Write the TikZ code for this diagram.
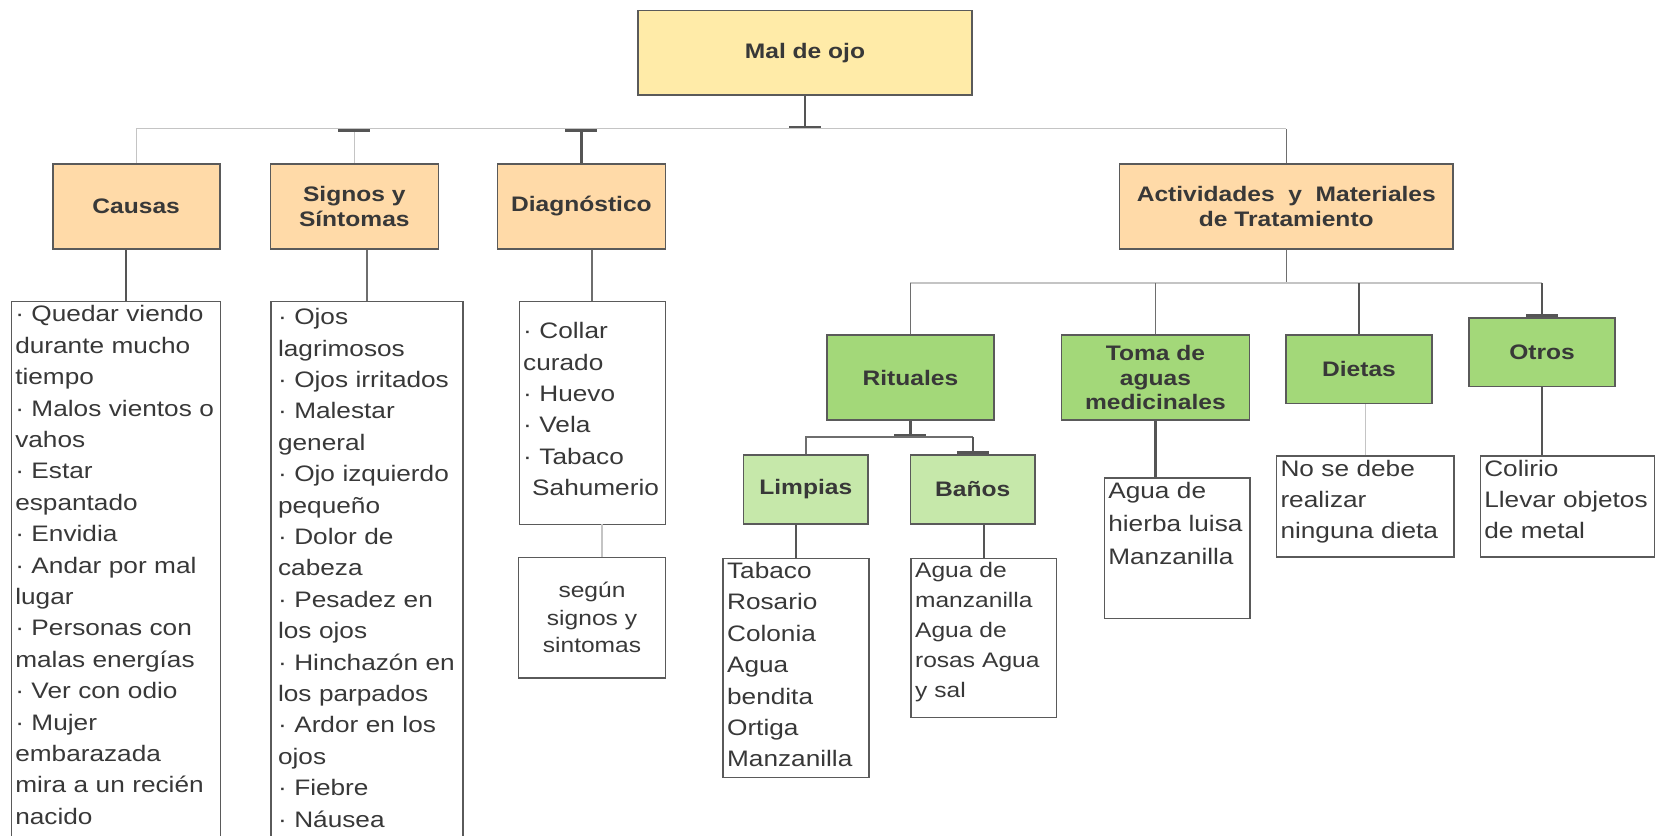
\documentclass[tikz,border=0pt]{standalone}
\usepackage{fontspec}
\setmainfont{Liberation Sans}[FakeStretch=1.17]
\usetikzlibrary{arrows.meta}
\definecolor{linedark}{HTML}{555555}
\definecolor{linemid}{HTML}{6E6E6E}
\definecolor{linelight}{HTML}{C4C4C4}
\definecolor{boxline}{HTML}{5A5A5A}
\definecolor{maincol}{HTML}{FFEBA8}
\definecolor{headcol}{HTML}{FFDAA8}
\definecolor{greencol}{HTML}{A3D879}
\definecolor{lightgreencol}{HTML}{C6E8AA}
\definecolor{textcol}{HTML}{383838}
\begin{document}
\begin{tikzpicture}[x=1pt,y=-1pt,
    box/.style={draw=boxline,line width=1.6pt,inner sep=0pt,align=center,text=textcol,
      font=\bfseries\fontsize{21}{24.5}\selectfont},
    topbox/.style={box,fill=maincol},
    headbox/.style={box,fill=headcol},
    greenbox/.style={box,fill=greencol},
    subbox/.style={box,fill=lightgreencol},
    listbox/.style={draw=boxline,line width=1.4pt,anchor=north west,align=left,
      inner xsep=4pt,inner ysep=4pt,text=textcol,font=\fontsize{22.4}{31.4}\selectfont},
    notebox/.style={draw=boxline,line width=1.4pt,align=center,text=textcol,
      font=\fontsize{21}{27.5}\selectfont},
    darkline/.style={draw=linedark,line width=2.2pt},
    midline/.style={draw=linemid,line width=1.6pt},
    lightline/.style={draw=linelight,line width=1.3pt},
    capbar/.tip={Bar[width=32pt,line width=3.2pt,color=linedark]}]
  \useasboundingbox (0,0) rectangle (1656,835);
  \clip (0,0) rectangle (1656,835);

  \node[topbox,minimum width=334,minimum height=84.5] (mal) at (805,52.8) {Mal de ojo};
  \node[headbox,minimum width=167,minimum height=85.5] (causas) at (136.2,206.5) {Causas};
  \node[headbox,minimum width=168,minimum height=85.5] (signos) at (354.3,206.5) {Signos y\\Síntomas};
  \node[headbox,minimum width=168,minimum height=85.5] (diag) at (581.4,206.5) {Diagnóstico};
  \node[headbox,minimum width=333.7,minimum height=85.5] (act) at (1286.3,206.5) {Actividades\ \ y\ \ Materiales\\de Tratamiento};

  \node[greenbox,minimum width=167,minimum height=85.5] (rituales) at (910.4,377.5) {Rituales};
  \node[greenbox,minimum width=188,minimum height=85.5] (toma) at (1155.4,377.5) {Toma de\\aguas\\medicinales};
  \node[greenbox,minimum width=145.7,minimum height=68.6] (dietas) at (1359,369.1) {Dietas};
  \node[greenbox,minimum width=145.7,minimum height=68.6] (otros) at (1542,352.2) {Otros};
  \node[subbox,minimum width=124.6,minimum height=68.6] (limpias) at (805.8,489.5) {Limpias};
  \node[subbox,minimum width=124.6,minimum height=68.6] (banos) at (972.7,489.5) {Baños};

  \node[listbox,text width=201pt,text depth=540pt] (causaslist) at (10.6,301)
    {· Quedar viendo\\durante mucho\\tiempo\\· Malos vientos o\\vahos\\· Estar\\espantado\\· Envidia\\· Andar por mal\\lugar\\· Personas con\\malas energías\\· Ver con odio\\· Mujer\\embarazada\\mira a un recién\\nacido};
  \node[listbox,inner xsep=7pt,text width=178pt,text height=19pt,text depth=540pt] (signoslist) at (270.4,301)
    {· Ojos\\lagrimosos\\· Ojos~irritados\\· Malestar\\general\\· Ojo~izquierdo\\pequeño\\· Dolor de\\cabeza\\· Pesadez~en\\los ojos\\· Hinchazón~en\\los~parpados\\· Ardor~en~los\\ojos\\· Fiebre\\· Náusea};
  \node[listbox,text width=138pt,text height=33pt,text depth=182pt] (diaglist) at (518.5,301)
    {· Collar\\curado\\· Huevo\\· Vela\\· Tabaco\\\hspace*{9pt}Sahumerio};
  \node[notebox,minimum width=146.8,minimum height=120.4] (segun) at (592,617.8) {según\\signos y\\sintomas};
  \node[listbox,text width=137.7pt,text depth=195pt] (limpiaslist) at (722.4,557.6)
    {Tabaco\\Rosario\\Colonia\\Agua\\bendita\\Ortiga\\Manzanilla};
  \node[listbox,font=\fontsize{21}{29.9}\selectfont,text width=137.6pt,text depth=136pt] (banoslist) at (910.4,557.6)
    {Agua de\\manzanilla\\Agua de\\rosas~Agua\\y sal};
  \node[listbox,font=\fontsize{22.4}{33}\selectfont,text width=137.8pt,text depth=116pt] (tomalist) at (1103.6,477.4)
    {Agua de\\hierba~luisa\\Manzanilla};
  \node[listbox,text width=169.4pt,text depth=77pt] (dietaslist) at (1275.8,455.2)
    {No se debe\\realizar\\ninguna~dieta};
  \node[listbox,text width=166.4pt,text depth=77pt] (otroslist) at (1479.6,455.2)
    {Colirio\\Llevar~objetos\\de metal};

  \coordinate (bus) at (805,128.8);
  \coordinate (bustwo) at (1286.3,283);
  \coordinate (busthree) at (910.4,437.2);
  \coordinate (causasdrop) at (125.7,301);
  \coordinate (diagdrop) at (602,523.8);

  \begin{scope}
    \draw[darkline,-capbar] (mal.south) -- (bus);
    \draw[lightline] (causas.north) -- (causas.north |- bus) -- (act.north |- bus);
    \draw[midline] (act.north |- bus) -- (act.north);
    \draw[lightline,capbar-] (signos.north |- bus) -- (signos.north);
    \draw[darkline,capbar-] (diag.north |- bus) -- (diag.north);
    \draw[darkline] (causasdrop) -- (causasdrop |- causas.south);
    \draw[midline] (signoslist.north) -- (signoslist.north |- signos.south);
    \draw[midline] (diaglist.north) -- (diaglist.north |- diag.south);
    \draw[lightline] (diagdrop) -- (diagdrop |- segun.north);
    \draw[midline] (act.south) -- (bustwo);
    \draw[lightline] (rituales.north |- bustwo) -- (otros.north |- bustwo);
    \draw[midline] (rituales.north |- bustwo) -- (rituales.north);
    \draw[midline] (toma.north |- bustwo) -- (toma.north);
    \draw[darkline] (dietas.north |- bustwo) -- (dietas.north);
    \draw[darkline,-capbar] (otros.north |- bustwo) -- (otros.north);
    \draw[darkline,-capbar] (rituales.south) -- (busthree);
    \draw[midline] (limpias.north) -- (limpias.north |- busthree) -- (banos.north |- busthree);
    \draw[darkline,-capbar] (banos.north |- busthree) -- (banos.north);
    \draw[darkline] (limpiaslist.north) -- (limpiaslist.north |- limpias.south);
    \draw[darkline] (banoslist.north) -- (banoslist.north |- banos.south);
    \draw[darkline] (toma.south) -- (toma.south |- tomalist.north);
    \draw[lightline] (dietaslist.north) -- (dietaslist.north |- dietas.south);
    \draw[darkline] (otros.south) -- (otros.south |- otroslist.north);
  \end{scope}
\end{tikzpicture}
\end{document}
